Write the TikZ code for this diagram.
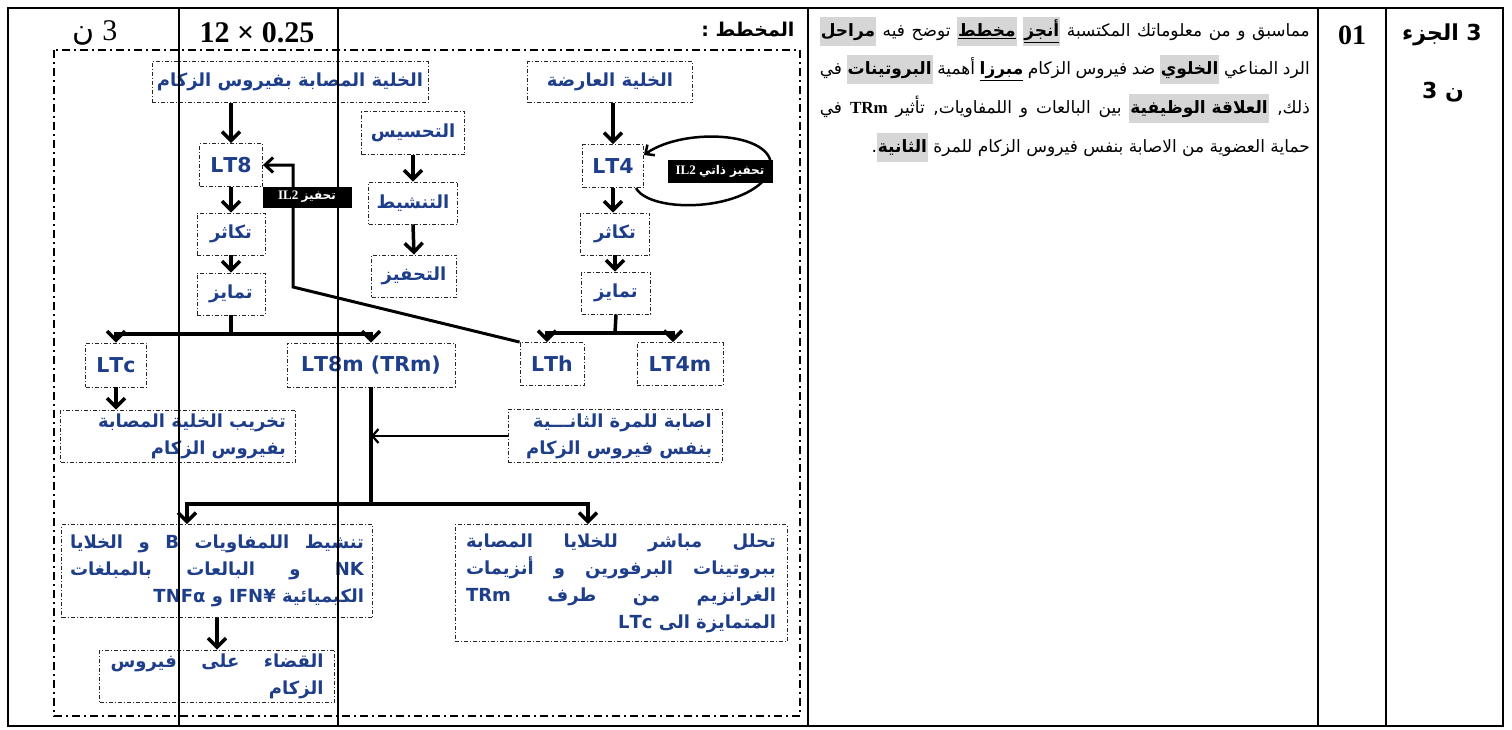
\documentclass[tikz,border=0pt]{standalone}
\usepackage{fontspec}
\usetikzlibrary{arrows.meta,positioning}
\setmainfont{Liberation Serif}
\newfontfamily\arabicf[Script=Arabic]{DejaVu Sans}
\TeXXeTstate=1
\definecolor{boxblue}{RGB}{30,62,138}
\definecolor{hlgray}{RGB}{214,214,214}
\newcommand{\lr}[1]{\beginL #1\endL{}}
\newcommand{\jline}[2]{\hbox to #1{#2}}
\newcommand{\rline}[2]{\hbox to #1{\hfill #2}}
\newcommand{\ulw}[1]{\underline{\beginR #1\endR}}
\newcommand{\hlw}[1]{\hbox{\beginL\setlength{\fboxsep}{1pt}\colorbox{hlgray}{\beginL\strut\bfseries\beginR #1\endR\endL}\endL}}

\begin{document}
\begin{tikzpicture}[x=1pt, y=-1pt,
	cell/.style={draw=black!85, dash pattern=on 4pt off 2pt on 1pt off 2pt, line width=0.9pt, text=boxblue, inner sep=0pt, align=center, font=\arabicf\bfseries\fontsize{18}{27}\selectfont},
	ltcell/.style={cell, font=\arabicf\bfseries\fontsize{20.5}{24}\selectfont},
	arr/.style={line width=3.5pt, -{Straight Barb[length=9pt,width=18pt]}},
	thinarr/.style={line width=2.2pt, -{Straight Barb[length=6pt,width=14pt]}},
	trunk/.style={line width=3.5pt},
	il2tag/.style={fill=black, text=white, inner sep=0pt, font=\rmfamily\bfseries\fontsize{13}{15}\selectfont},
	grid/.style={line width=1.8pt}]
	\useasboundingbox (0,0) rectangle (1512,729);
	% table
	\draw[grid] (8,8) rectangle (1503,726);
	\draw[grid] (808,8) -- (808,726);
	\draw[grid] (1318,8) -- (1318,726);
	\draw[grid] (1386,8) -- (1386,726);
	\draw[line width=1.5pt, dash pattern=on 8pt off 4pt on 2pt off 4pt] (54,50) rectangle (800,716);
	
	% header
	\node (pts) at (95,33) {\fontsize{30}{34}\selectfont\beginR 3 {\arabicf ن}\endR};
	\node (scale) at (257,33) {\fontsize{30}{34}\selectfont\bfseries 12 × 0.25};
	\node[anchor=east] (title) at (798,30) {\arabicf\bfseries\fontsize{19}{24}\selectfont\beginR المخطط :\endR};
	\node (num) at (1352,35) {\fontsize{28}{32}\selectfont\bfseries 01};
	\node (part) at (1442,35) {\arabicf\bfseries\fontsize{22}{26}\selectfont\beginR 3 الجزء\endR};
	\node (partpts) at (1443,92) {\arabicf\bfseries\fontsize{22}{26}\selectfont\beginR ن 3\endR};
	
	% task text
	\node[anchor=east, inner sep=0pt] (task1) at (1310,31) {\arabicf\fontsize{17}{27}\selectfont\jline{490pt}{\beginR مماسبق و من معلوماتك المكتسبة \hlw{\ulw{أنجز}} \hlw{\ulw{مخطط}} توضح فيه \hlw{مراحل}\endR}};
	\node[anchor=east, inner sep=0pt] (task2) at (1310,69) {\arabicf\fontsize{17}{27}\selectfont\jline{490pt}{\beginR الرد المناعي \hlw{الخلوي} ضد فيروس الزكام {\bfseries\ulw{مبرزا}} أهمية \hlw{البروتينات} في\endR}};
	\node[anchor=east, inner sep=0pt] (task3) at (1310,108) {\arabicf\fontsize{17}{27}\selectfont\jline{490pt}{\beginR ذلك, \hlw{العلاقة الوظيفية} بين البالعات و اللمفاويات, تأثير {\rmfamily\bfseries\lr{TRm}} في\endR}};
	\node[anchor=east, inner sep=0pt] (task4) at (1310,147) {\arabicf\fontsize{17}{27}\selectfont\rline{490pt}{\beginR حماية العضوية من الاصابة بنفس فيروس الزكام للمرة \hlw{الثانية}.\endR}};
	
	% diagram
	\node[cell, minimum width=276pt, minimum height=41pt] (infected) at (290,82) {\beginR الخلية المصابة بفيروس الزكام\endR};
	\node[cell, minimum width=165pt, minimum height=41pt] (apc) at (610,82) {\beginR الخلية العارضة\endR};
	\node[cell, minimum width=103pt, minimum height=43pt] (sens) at (413,133) {\beginR التحسيس\endR};
	\node[cell, minimum width=89pt, minimum height=42pt] (activ) at (413,203) {\beginR التنشيط\endR};
	\node[cell, minimum width=85pt, minimum height=42pt] (stim) at (414,276) {\beginR التحفيز\endR};
	\node[ltcell, minimum width=63pt, minimum height=43pt] (LT8) at (231,165) {LT8};
	\node[cell, minimum width=68pt, minimum height=42pt] (prolifL) at (231,234) {\beginR تكاثر\endR};
	\node[cell, minimum width=68pt, minimum height=42pt] (diffL) at (231,294) {\beginR تمايز\endR};
	\node[ltcell, minimum width=61pt, minimum height=43pt] (LT4) at (613,166) {LT4};
	\node[cell, minimum width=69pt, minimum height=42pt] (prolifR) at (615,234) {\beginR تكاثر\endR};
	\node[cell, minimum width=69pt, minimum height=42pt] (diffR) at (616,293) {\beginR تمايز\endR};
	\node[ltcell, minimum width=61pt, minimum height=44pt] (LTc) at (116,365) {LTc};
	\node[ltcell, minimum width=168pt, minimum height=44pt] (LT8m) at (371,365) {LT8m (TRm)};
	\node[ltcell, minimum width=64pt, minimum height=43pt] (LTh) at (552,364) {LTh};
	\node[ltcell, minimum width=86pt, minimum height=43pt] (LT4m) at (680,364) {LT4m};
	\node[cell, minimum width=235pt, minimum height=52pt] (destroy) at (178,436) {\rline{216pt}{\beginR تخريب الخلية المصابة\endR}\\\rline{216pt}{\beginR بفيروس الزكام\endR}};
	\node[cell, minimum width=214pt, minimum height=53pt] (second) at (615,436) {\rline{194pt}{\beginR اصابة للمرة الثانـــية\endR}\\\rline{194pt}{\beginR بنفس فيروس الزكام\endR}};
	\node[cell, minimum width=311pt, minimum height=93pt] (activB) at (217,571) {\jline{294pt}{\beginR تنشيط اللمفاويات \lr{B} و الخلايا\endR}\\\jline{294pt}{\beginR\lr{NK} و البالعات بالمبلغات\endR}\\\rline{294pt}{\beginR الكيميائية \lr{IFN¥} و \lr{TNFα}\endR}};
	\node[cell, minimum width=235pt, minimum height=52pt] (elim) at (217,676) {\jline{213pt}{\beginR القضاء على فيروس\endR}\\\rline{213pt}{\beginR الزكام\endR}};
	\node[cell, minimum width=332pt, minimum height=117pt] (lysis) at (621,583) {\jline{310pt}{\beginR تحلل مباشر للخلايا المصابة\endR}\\\jline{310pt}{\beginR ببروتينات البرفورين و أنزيمات\endR}\\\jline{310pt}{\beginR الغرانزيم من طرف \lr{TRm}\endR}\\\rline{310pt}{\beginR المتمايزة الى \lr{LTc}\endR}};
	
	\coordinate (brL) at (231,334);
	\coordinate (brR) at (615,333);
	\coordinate (brM) at (371,504);
	\coordinate (il2a) at (293,287);
	\coordinate (il2b) at (293,165);
	
	% arrows
	\draw[arr] (LT8 |- infected.south) -- (LT8.north);
	\draw[arr] (LT4 |- apc.south) -- (LT4.north);
	\draw[arr] (sens.south) -- (activ.north);
	\draw[arr] (activ.south) -- (stim.north);
	\draw[arr] (LT8.south) -- (prolifL.north);
	\draw[arr] (prolifL.south) -- (diffL.north);
	\draw[arr] (LT4.south) -- (LT4 |- prolifR.north);
	\draw[arr] (prolifR.south) -- (prolifR |- diffR.north);
	\draw[trunk] (diffL.south) -- (brL);
	\draw[arr] (brL) -| (LTc.north);
	\draw[arr] (brL) -| (LT8m.north);
	\draw[trunk] (diffR.south) -- (brR);
	\draw[arr] (brR) -| ([xshift=-5pt]LTh.north);
	\draw[arr] (brR) -| ([xshift=-7pt]LT4m.north);
	\draw[arr] (LTc.south) -- (LTc |- destroy.north);
	\draw[trunk] (LT8m.south) -- (brM);
	\draw[arr] (brM) -| ([xshift=-30pt]activB.north);
	\draw[arr] (brM) -| ([xshift=-33pt]lysis.north);
	\draw[thinarr] (second.west) -- (LT8m |- second.west);
	\draw[arr] (activB.south) -- (elim.north);
	\draw[line width=3pt, -{Straight Barb[length=8pt,width=15pt]}] (LTh.north west) -- (il2a) -- (il2b) -- (LT8.east);
	\draw[line width=2.5pt, -{Straight Barb[length=7pt,width=13pt]}] ([xshift=-8pt]LT4.south east) .. controls (650,214) and (748,212) .. (770,172) .. controls (782,132) and (685,126) .. ([yshift=11pt]LT4.east);
	
	% IL2 tags
	\node[il2tag, minimum width=89pt, minimum height=21pt] (il2tag) at (307,197) {\beginR{\arabicf\fontsize{12}{13}\selectfont تحفيز} \lr{IL2}\endR};
	\node[il2tag, minimum width=105pt, minimum height=23pt] (selftag) at (720,171) {\beginR{\arabicf\fontsize{12}{13}\selectfont تحفيز ذاتي} \lr{IL2}\endR};
	
	% grading column lines
	\draw[grid] (179,8) -- (179,726);
	\draw[grid] (338,8) -- (338,726);
\end{tikzpicture}
\end{document}
